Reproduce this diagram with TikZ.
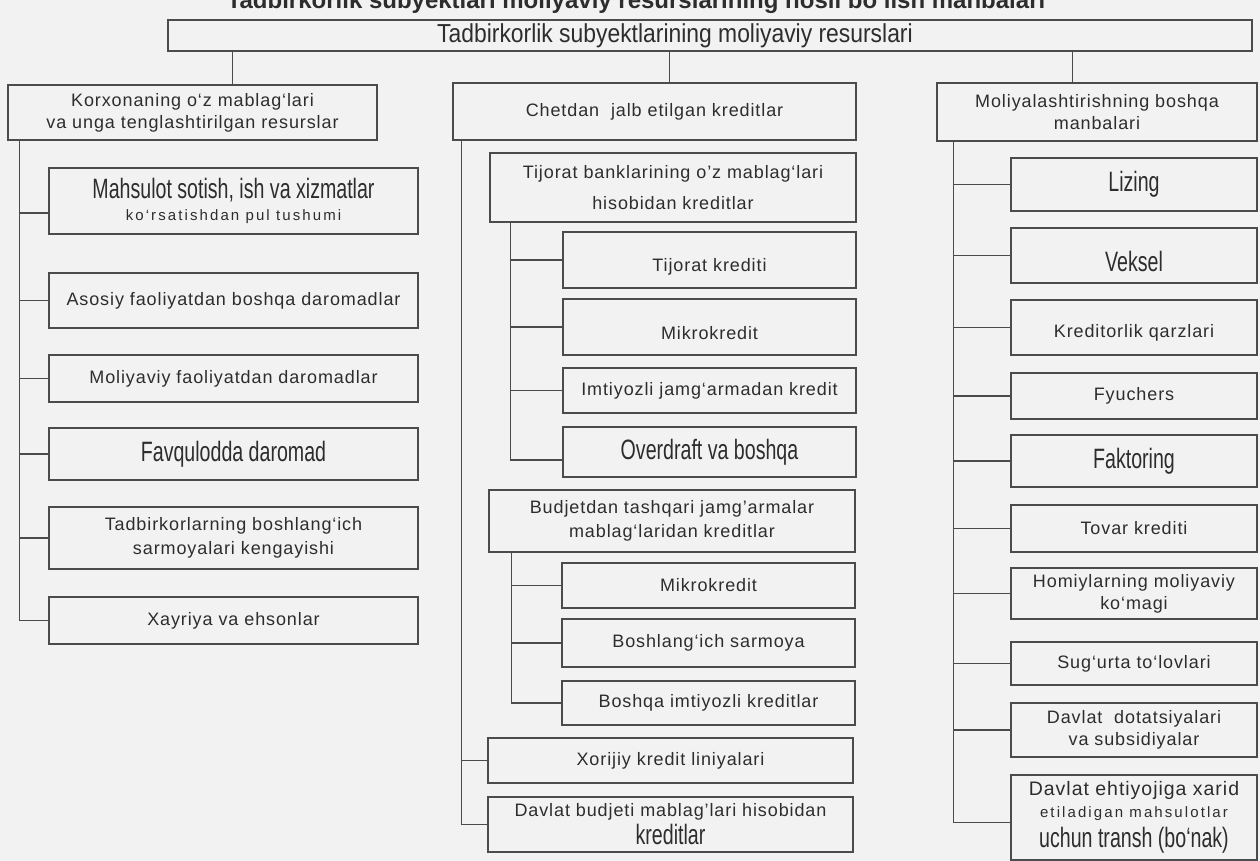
\documentclass[tikz,border=0pt]{standalone}
\usepackage{fontspec}
\setmainfont{Liberation Sans}
\newfontfamily\ffR[LetterSpace=5]{Liberation Sans}
\newfontfamily\ffS[LetterSpace=14]{Liberation Sans}
\newfontfamily\ffN[FakeStretch=0.7]{Liberation Sans}
\newfontfamily\ffT[FakeStretch=0.88]{Liberation Sans}
\newcommand\fR{\ffR\fontsize{18pt}{22pt}\selectfont}
\newcommand\fRL{\ffR\fontsize{19.5pt}{24pt}\selectfont}
\newcommand\fS{\ffS\fontsize{15pt}{20pt}\selectfont}
\newcommand\fN{\ffN\fontsize{28pt}{30pt}\selectfont}
\newcommand\fT{\ffT\fontsize{26pt}{28pt}\selectfont}
\newcommand\dn[2]{\raisebox{-#1}[\height][\depth]{#2}}
\definecolor{linecol}{RGB}{75,75,75}
\definecolor{textcol}{RGB}{45,45,45}
\definecolor{bgcol}{RGB}{242,242,242}
\tikzset{
  bx/.style={draw=linecol, line width=1.1pt, inner sep=0pt, align=center, font=\fR, text=textcol},
  conn/.style={draw=linecol, line width=1.1pt},
}
\newcommand\bx[6]{\node[bx, minimum width={(#4)-(#2)}, minimum height={(#5)-(#3)}] (#1) at ({((#2)+(#4))/2},{((#3)+(#5))/2}) {#6};}
\begin{document}
\begin{tikzpicture}[x=1pt,y=-1pt]
\useasboundingbox (0,0) rectangle (1260,861);
\clip (0,0) rectangle (1260,861);
\fill[bgcol] (0,0) rectangle (1260,861);
\node[font=\bfseries\fontsize{24pt}{28pt}\selectfont, anchor=base, text=textcol] (title) at (636,9) {Tadbirkorlik subyektlari moliyaviy resurslarining hosil bo‘lish manbalari};
% level 0 and 1
\bx{top}{168}{20}{1252}{51}{\fT Tadbirkorlik subyektlarining moliyaviy resurslari\hspace*{70pt}}
\bx{korx}{8}{85}{377}{140}{Korxonaning o‘z mablag‘lari\\va unga tenglashtirilgan resurslar}
\bx{chet}{453}{83}{856}{140}{Chetdan\ \ jalb etilgan kreditlar}
\bx{moli}{937}{83}{1257}{141}{Moliyalashtirishning boshqa\\manbalari}
% left column
\bx{mahs}{49}{168}{418}{234}{{\fN Mahsulot sotish, ish va xizmatlar}\\[0pt]{\fS ko‘rsatishdan pul tushumi}}
\bx{asos}{49}{273}{418}{328}{Asosiy faoliyatdan boshqa daromadlar}
\bx{moly}{49}{355}{418}{402}{Moliyaviy faoliyatdan daromadlar}
\bx{favq}{49}{428}{418}{480}{\fN Favqulodda daromad}
\bx{tadb}{49}{507}{418}{569}{Tadbirkorlarning boshlang‘ich\\[2pt]sarmoyalari kengayishi}
\bx{xayr}{49}{597}{418}{644}{Xayriya va ehsonlar}
% middle column
\bx{tijb}{490}{153}{856}{222}{Tijorat banklarining o’z mablag‘lari\\[9pt]hisobidan kreditlar}
\bx{tk}{563}{232}{856}{288}{\dn{7pt}{Tijorat krediti}}
\bx{mk1}{563}{299}{856}{355}{\dn{6pt}{Mikrokredit}}
\bx{imt}{563}{368}{856}{413}{Imtiyozli jamg‘armadan kredit}
\bx{over}{563}{427}{856}{477}{\fN Overdraft va boshqa}
\bx{budj}{489}{490}{855}{552}{Budjetdan tashqari jamg’armalar\\[2pt]mablag‘laridan kreditlar}
\bx{mk2}{562}{563}{855}{608}{Mikrokredit}
\bx{bsar}{562}{619}{855}{667}{Boshlang‘ich sarmoya}
\bx{bimt}{562}{681}{855}{725}{Boshqa imtiyozli kreditlar}
\bx{xor}{488}{738}{853}{783}{Xorijiy kredit liniyalari}
\bx{dbud}{488}{797}{853}{852}{Davlat budjeti mablag’lari hisobidan\\[3pt]{\fN kreditlar}}
% right column
\bx{liz}{1011}{158}{1257}{211}{\fN Lizing}
\bx{vek}{1011}{228}{1257}{283}{\dn{6pt}{\fN Veksel}}
\bx{kred}{1011}{300}{1257}{355}{\dn{5pt}{Kreditorlik qarzlari}}
\bx{fyu}{1011}{373}{1257}{419}{Fyuchers}
\bx{fak}{1011}{435}{1257}{487}{\fN Faktoring}
\bx{tov}{1011}{505}{1257}{552}{Tovar krediti}
\bx{hom}{1011}{568}{1257}{619}{Homiylarning moliyaviy\\ko‘magi}
\bx{sug}{1011}{642}{1257}{685}{Sug‘urta to‘lovlari}
\bx{dot}{1011}{703}{1257}{757}{Davlat\ \ dotatsiyalari\\va subsidiyalar}
\bx{ehti}{1011}{775}{1257}{860}{{\fRL Davlat ehtiyojiga xarid}\\[0pt]{\fS etiladigan mahsulotlar}\\[5pt]{\fN uchun transh (bo‘nak)}}
% top connectors
\coordinate (k1) at ([xshift=225pt]korx.north west);
\coordinate (k2) at ([xshift=217pt]chet.north west);
\coordinate (k3) at ([xshift=136pt]moli.north west);
\draw[conn] (k1 |- top.south) -- (k1);
\draw[conn] (k2 |- top.south) -- (k2);
\draw[conn] (k3 |- top.south) -- (k3);
% left trunk
\coordinate (LT) at ([xshift=12pt]korx.south west);
\coordinate (mahsB) at ([yshift=-12pt]mahs.west);
\draw[conn] (LT) |- (xayr.west);
\foreach \n in {asos,moly,favq,tadb} \draw[conn] (LT |- \n.west) -- (\n.west);
\draw[conn] (LT |- mahsB) -- (mahsB);
% middle trunk
\coordinate (MT) at ([xshift=9pt]chet.south west);
\draw[conn] (MT) |- (dbud.west);
\draw[conn] (MT |- xor.west) -- (xor.west);
% sub trunk 1
\coordinate (S1) at ([xshift=21pt]tijb.south west);
\coordinate (overB) at ([yshift=-8pt]over.west);
\draw[conn] (S1) |- (overB);
\foreach \n in {tk,mk1,imt} \draw[conn] (S1 |- \n.west) -- (\n.west);
% sub trunk 2
\coordinate (S2) at ([xshift=23pt]budj.south west);
\draw[conn] (S2) |- (bimt.west);
\foreach \n in {mk2,bsar} \draw[conn] (S2 |- \n.west) -- (\n.west);
% right trunk
\coordinate (RT) at ([xshift=17pt]moli.south west);
\coordinate (ehtiB) at ([yshift=-5pt]ehti.west);
\draw[conn] (RT) |- (ehtiB);
\foreach \n in {liz,vek,kred,fyu,fak,tov,hom,sug,dot} \draw[conn] (RT |- \n.west) -- (\n.west);
\end{tikzpicture}
\end{document}
